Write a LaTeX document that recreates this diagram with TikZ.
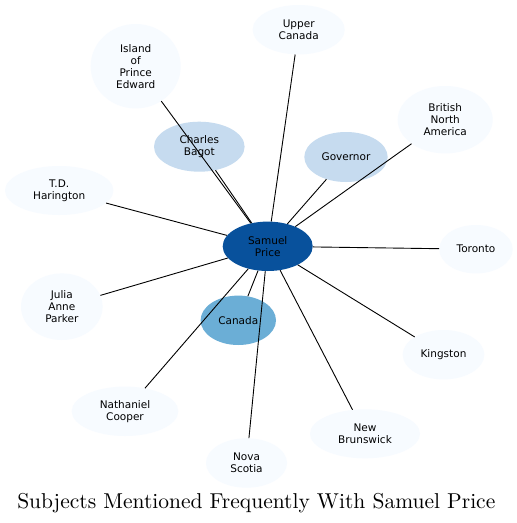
\documentclass[tikz,border=0pt]{standalone}
\usepackage{fontspec}
\newfontfamily\labelfont{DejaVu Sans}
\newfontfamily\titlefont{lmroman10-regular.otf}
\usetikzlibrary{shapes.geometric}
\definecolor{bluescolor0}{RGB}{247,251,255}
\definecolor{bluescolor2}{RGB}{198,219,239}
\definecolor{bluescolor4}{RGB}{107,174,214}
\definecolor{bluescolor7}{RGB}{8,81,156}
\begin{document}
\begin{tikzpicture}[yscale=-1
,subject/.style={ellipse,draw=none,inner sep=0pt,align=center,text=black,font=\labelfont\fontsize{10.5}{12}\selectfont}
,tier0/.style={subject,fill=bluescolor0}
,tier2/.style={subject,fill=bluescolor2}
,tier4/.style={subject,fill=bluescolor4}
,tier7/.style={subject,fill=bluescolor7}
,link/.style={color=black,line width=0.9pt}
]
\useasboundingbox[fill=white] (0pt,0pt) rectangle (517pt,523pt);
\node (samuelprice) at (267.7pt,246.3pt)[tier7,minimum width=90pt,minimum height=49.4pt]{Samuel\\Price};
\node (canada) at (238.3pt,320.3pt)[tier4,minimum width=75.4pt,minimum height=49.4pt]{Canada};
\node (charlesbagot) at (199.3pt,146.7pt)[tier2,minimum width=90.6pt,minimum height=50pt]{Charles\\Bagot};
\node (governor) at (346pt,157pt)[tier2,minimum width=83.4pt,minimum height=50pt]{Governor};
\node (island) at (135.7pt,66.2pt)[tier0,minimum width=90pt,minimum height=84.4pt]{Island\\of\\Prince\\Edward};
\node (uppercanada) at (298.7pt,29.7pt)[tier0,minimum width=92pt,minimum height=49.4pt]{Upper\\Canada};
\node (britishna) at (445.2pt,119.7pt)[tier0,minimum width=95pt,minimum height=67.4pt]{British\\North\\America};
\node (harington) at (59.2pt,190.5pt)[tier0,minimum width=108.4pt,minimum height=49pt]{T.D.\\Harington};
\node (toronto) at (476pt,249.2pt)[tier0,minimum width=73.4pt,minimum height=48.4pt]{Toronto};
\node (juliaparker) at (61.8pt,306.7pt)[tier0,minimum width=81.6pt,minimum height=66.6pt]{Julia\\Anne\\Parker};
\node (kingston) at (443.5pt,354.7pt)[tier0,minimum width=81.6pt,minimum height=49.4pt]{Kingston};
\node (nathanielcooper) at (125pt,411.3pt)[tier0,minimum width=106.6pt,minimum height=49.4pt]{Nathaniel\\Cooper};
\node (novascotia) at (246.5pt,463pt)[tier0,minimum width=81pt,minimum height=49.4pt]{Nova\\Scotia};
\node (newbrunswick) at (365pt,433.8pt)[tier0,minimum width=110pt,minimum height=49pt]{New\\Brunswick};
\draw[link] (samuelprice) -- (canada);
\draw[link] (samuelprice) -- (charlesbagot);
\draw[link] (samuelprice) -- (governor);
\draw[link] (samuelprice) -- (island);
\draw[link] (samuelprice) -- (uppercanada);
\draw[link] (samuelprice) -- (britishna);
\draw[link] (samuelprice) -- (harington);
\draw[link] (samuelprice) -- (toronto);
\draw[link] (samuelprice) -- (juliaparker);
\draw[link] (samuelprice) -- (kingston);
\draw[link] (samuelprice) -- (nathanielcooper);
\draw[link] (samuelprice) -- (novascotia);
\draw[link] (samuelprice) -- (newbrunswick);
\node (title) at (256.3pt,508pt)[anchor=base,font=\titlefont\fontsize{21.5}{24}\selectfont]{Subjects Mentioned Frequently With Samuel Price};
\end{tikzpicture}
\end{document}
